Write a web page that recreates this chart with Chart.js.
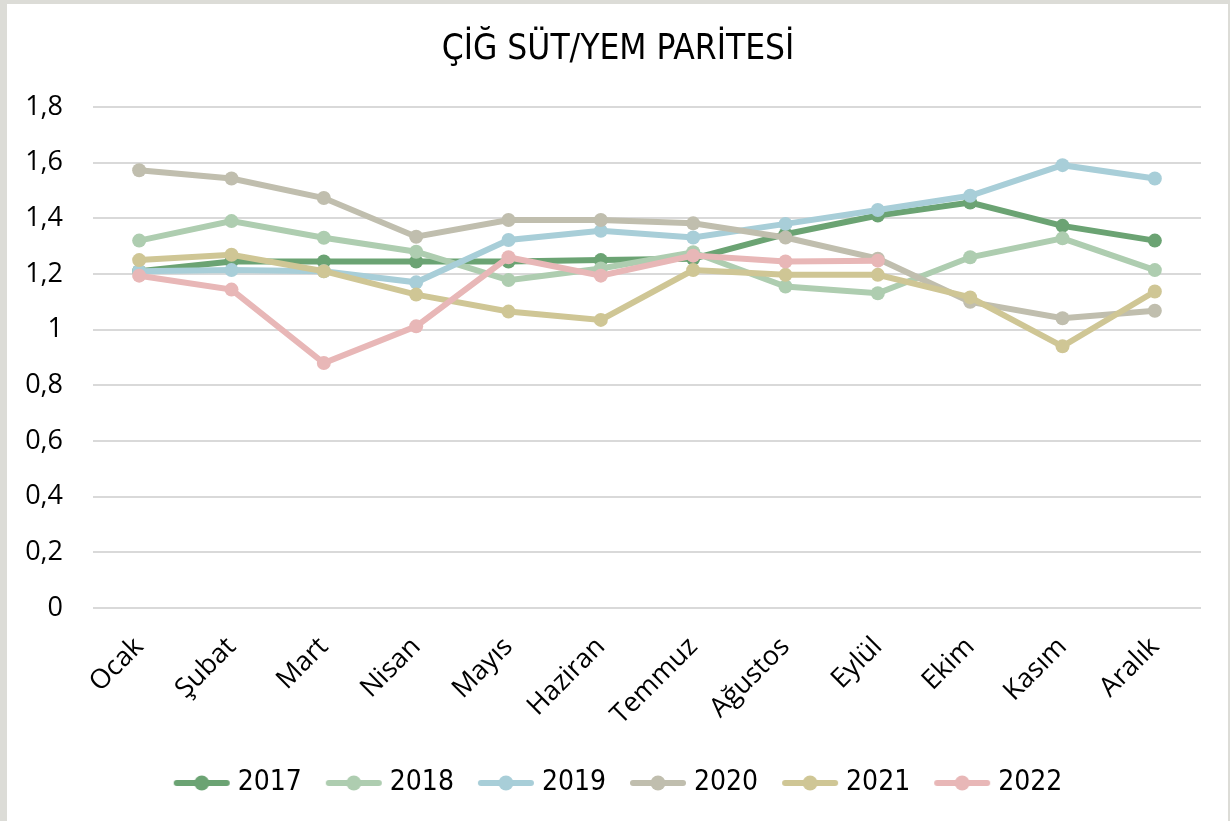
<!DOCTYPE html>
<html lang="tr">
<head>
<meta charset="utf-8">
<title>Çiğ Süt/Yem Paritesi</title>
<script src="https://cdn.jsdelivr.net/npm/chart.js@4.4.1/dist/chart.umd.min.js"></script>
<style>
  html, body { margin: 0; padding: 0; background: #dcdcd7; }
  .kart { position: absolute; left: 7px; top: 4px; width: 1221px; height: 817px; background: #fff; }
</style>
</head>
<body>
<div class="kart"><canvas id="parite"></canvas></div>
<script>
// aylar ve yıllar
const aylar = ['Ocak', 'Şubat', 'Mart', 'Nisan', 'Mayıs', 'Haziran', 'Temmuz', 'Ağustos', 'Eylül', 'Ekim', 'Kasım', 'Aralık'];
const yillar = ['2017', '2018', '2019', '2020', '2021', '2022'];

// çiğ süt / yem paritesi, aylık
const y2017 = [1.21, 1.245, 1.245, 1.245, 1.245, 1.25, 1.255, 1.343, 1.41, 1.457, 1.373, 1.32];
const y2018 = [1.32, 1.39, 1.33, 1.28, 1.178, 1.22, 1.278, 1.155, 1.131, 1.26, 1.328, 1.214];
const y2019 = [1.21, 1.214, 1.21, 1.17, 1.322, 1.355, 1.331, 1.38, 1.43, 1.481, 1.591, 1.543];
const y2020 = [1.573, 1.543, 1.473, 1.334, 1.394, 1.394, 1.382, 1.331, 1.255, 1.10, 1.041, 1.068];
const y2021 = [1.25, 1.269, 1.21, 1.126, 1.065, 1.035, 1.214, 1.197, 1.197, 1.116, 0.94, 1.137];
const y2022 = [1.194, 1.144, 0.88, 1.012, 1.26, 1.194, 1.266, 1.245, 1.248, null, null, null];

const yEtiketleri = ['0', '0,2', '0,4', '0,6', '0,8', '1', '1,2', '1,4', '1,6', '1,8'];

const renkler = ['#6ba373', '#aecdb0', '#a8ced8', '#c0beae', '#cfc695', '#e8b7b7'];
const seriler = [y2017, y2018, y2019, y2020, y2021, y2022];

const dar = "'Liberation Sans Narrow', 'DejaVu Sans Condensed', 'Open Sans', sans-serif";
const normal = "'Open Sans', 'Noto Sans', sans-serif";

// lejant için çizgi + nokta simgesi
function lejantSimgesi(renk) {
    const c = document.createElement('canvas');
    c.width = 58;
    c.height = 18;
    const g = c.getContext('2d');
    g.strokeStyle = renk;
    g.lineWidth = 6;
    g.lineCap = 'round';
    g.beginPath();
    g.moveTo(4, 9);
    g.lineTo(54, 9);
    g.stroke();
    g.fillStyle = renk;
    g.beginPath();
    g.arc(29, 9, 7.5, 0, Math.PI * 2);
    g.fill();
    return c;
}
const simgeler = renkler.map(lejantSimgesi);

// lejant yüksekliğini sabitle, başlık ve lejantı kartın ortasına kaydır
const yerlesim = {
    id: 'yerlesim',
    beforeLayout(chart) {
        const lg = chart.legend;
        if (lg && !lg._sabit) {
            const fit = lg.fit;
            lg.fit = function () {
                fit.call(this);
                this.height = 82;
            };
            lg._sabit = true;
        }
    },
    afterLayout(chart) {
        const kaydir = (kutu, dx) => {
            if (!kutu) return;
            kutu.left += dx;
            kutu.right += dx;
        };
        kaydir(chart.legend, 17);
        kaydir(chart.titleBlock, 14);
    }
};

const datasets = yillar.map((yil, i) => ({
    label: yil,
    data: seriler[i],
    borderColor: renkler[i],
    backgroundColor: renkler[i],
    pointBackgroundColor: renkler[i],
    pointBorderWidth: 0,
    pointRadius: 7,
    borderWidth: 6,
    tension: 0,
    spanGaps: false,
    order: yillar.length - 1 - i
}));

new Chart(document.getElementById('parite'), {
    type: 'line',
    data: { labels: aylar, datasets: datasets },
    plugins: [yerlesim],
    options: {
        responsive: true,
        maintainAspectRatio: false,
        animation: false,
        layout: { padding: { left: 0, right: 27, top: 0, bottom: 0 } },
        plugins: {
            tooltip: { enabled: false },
            title: {
                display: true,
                text: 'ÇİĞ SÜT/YEM PARİTESİ',
                color: '#000',
                font: { family: dar, size: 35, weight: 'normal' },
                padding: { top: 25, bottom: 36 }
            },
            legend: {
                position: 'bottom',
                labels: {
                    usePointStyle: true,
                    pointStyleWidth: 44,
                    boxHeight: 18,
                    padding: 30,
                    color: '#000',
                    font: { family: dar, size: 28 },
                    sort: (a, b) => a.datasetIndex - b.datasetIndex,
                    generateLabels(chart) {
                        const items = Chart.defaults.plugins.legend.labels.generateLabels(chart);
                        items.forEach(it => { it.pointStyle = simgeler[it.datasetIndex]; });
                        return items;
                    }
                }
            }
        },
        scales: {
            x: {
                offset: true,
                grid: { display: false },
                border: { display: false },
                ticks: {
                    color: '#000',
                    font: { family: normal, size: 27 },
                    minRotation: 45,
                    maxRotation: 45,
                    padding: 15,
                    autoSkip: false
                },
                afterFit(scale) { scale.height = 131; }
            },
            y: {
                min: 0,
                max: 1.8,
                grid: { color: '#d9d9d9', lineWidth: 2, drawTicks: false },
                border: { display: false },
                ticks: {
                    stepSize: 0.2,
                    color: '#000',
                    padding: 30,
                    font: { family: normal, size: 27 },
                    callback: (v, i) => yEtiketleri[i]
                },
                afterFit(scale) { scale.width = 86; }
            }
        }
    }
});
</script>
</body>
</html>
